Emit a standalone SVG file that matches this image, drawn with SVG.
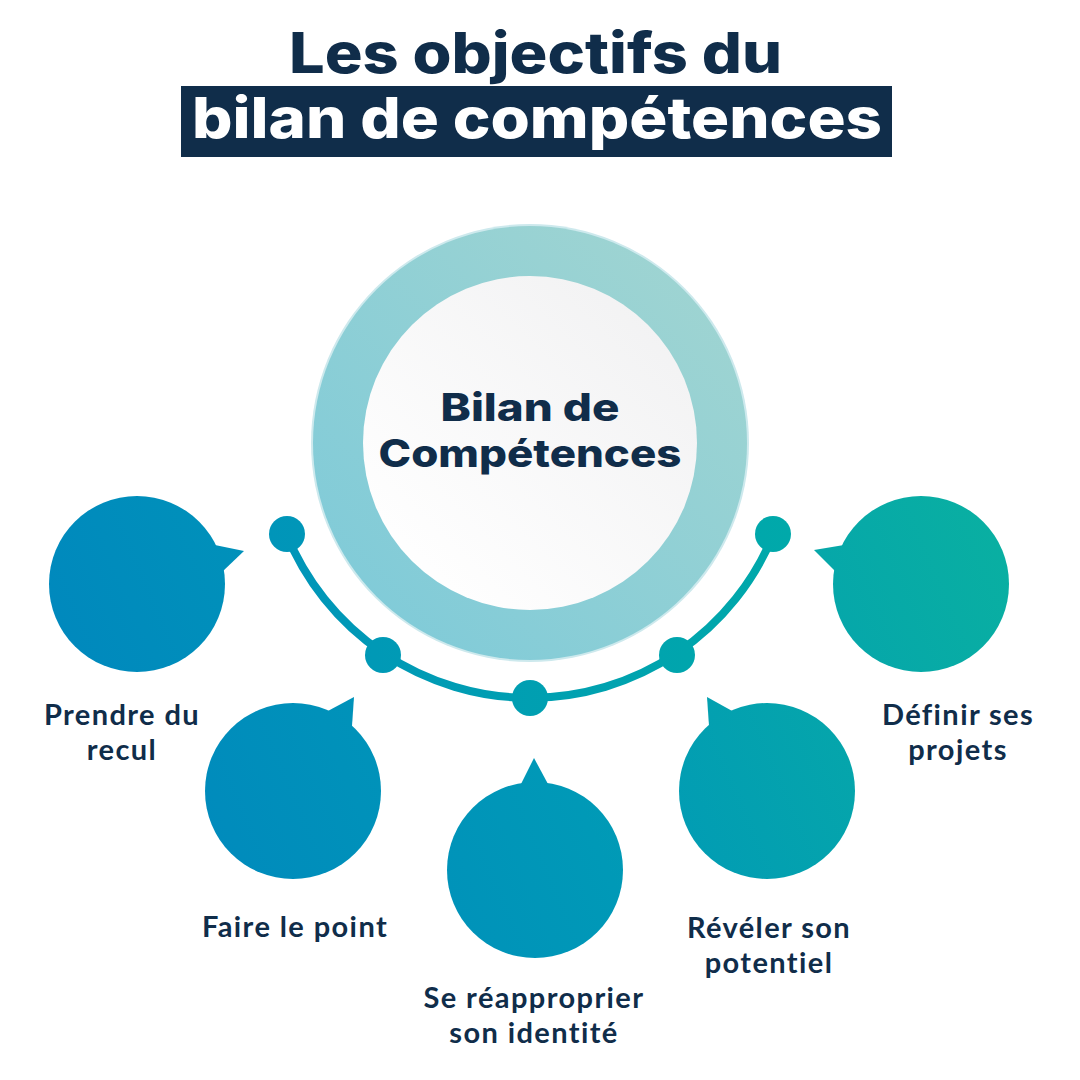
<svg xmlns="http://www.w3.org/2000/svg" width="1080" height="1080" viewBox="0 0 1080 1080">
  <defs>
    <linearGradient id="bubbleGrad" gradientUnits="userSpaceOnUse" x1="40" y1="900" x2="1020" y2="480">
      <stop offset="0" stop-color="#0084BF"/>
      <stop offset="0.5" stop-color="#0099B7"/>
      <stop offset="1" stop-color="#0AB1A0"/>
    </linearGradient>
    <linearGradient id="ringGrad" gradientUnits="userSpaceOnUse" x1="330" y1="650" x2="740" y2="240">
      <stop offset="0" stop-color="#7DCAD9"/>
      <stop offset="1" stop-color="#A2D5D1"/>
    </linearGradient>
    <linearGradient id="innerGrad" gradientUnits="userSpaceOnUse" x1="400" y1="580" x2="680" y2="290">
      <stop offset="0" stop-color="#FFFFFF"/>
      <stop offset="1" stop-color="#F1F1F2"/>
    </linearGradient>
    <linearGradient id="arcGrad" gradientUnits="userSpaceOnUse" x1="270" y1="0" x2="790" y2="0">
      <stop offset="0" stop-color="#0095B9"/>
      <stop offset="1" stop-color="#00A9AA"/>
    </linearGradient>
  </defs>
  <style>
    .title { font-family: Inter, "Noto Sans", "DejaVu Sans", sans-serif; font-weight: 800; font-size: 56px; }
    .center { font-family: Inter, "Noto Sans", "DejaVu Sans", sans-serif; font-weight: 800; font-size: 38px; fill: #102D4A; text-anchor: middle; }
    .label { font-family: Lato, "Open Sans", "Liberation Sans", sans-serif; font-weight: 700; font-size: 29px; letter-spacing: 1.4px; fill: #102D4A; text-anchor: middle; }
    .bubble { fill: url(#bubbleGrad); }
    .dot { fill: url(#arcGrad); }
  </style>

  <rect width="1080" height="1080" fill="#FFFFFF"/>

  <g id="title">
    <text class="title" x="289" y="73" fill="#102D4A" textLength="493" lengthAdjust="spacingAndGlyphs">Les objectifs du</text>
    <rect x="181" y="86" width="711" height="71" fill="#102D4A"/>
    <text class="title" x="192" y="138" fill="#FFFFFF" textLength="690" lengthAdjust="spacingAndGlyphs">bilan de compétences</text>
  </g>

  <g id="connectors">
    <path d="M286,533 A263,263 0 0 0 774,533" fill="none" stroke="url(#arcGrad)" stroke-width="8"/>
    <circle class="dot" cx="287" cy="534" r="18"/>
    <circle class="dot" cx="383" cy="655" r="18"/>
    <circle class="dot" cx="530" cy="698" r="18"/>
    <circle class="dot" cx="677" cy="655" r="18"/>
    <circle class="dot" cx="773" cy="534" r="18"/>
  </g>

  <g id="center-node">
    <circle cx="530" cy="443" r="219" fill="#CDE9ED"/>
    <circle cx="530" cy="443" r="217" fill="url(#ringGrad)"/>
    <circle cx="530" cy="443" r="167" fill="url(#innerGrad)"/>
    <text class="center" x="530" y="421" textLength="179" lengthAdjust="spacingAndGlyphs">Bilan de</text>
    <text class="center" x="530" y="467" textLength="303" lengthAdjust="spacingAndGlyphs">Compétences</text>
  </g>

  <g id="node-prendre-du-recul">
    <circle class="bubble" cx="137" cy="584" r="88"/>
    <polygon class="bubble" points="210,544 244,551 222,572 200,570"/>
    <text class="label" x="122" y="725">Prendre du</text>
    <text class="label" x="122" y="760">recul</text>
  </g>

  <g id="node-faire-le-point">
    <circle class="bubble" cx="293" cy="791" r="88"/>
    <polygon class="bubble" points="326,712 354,697 352,726 335,730"/>
    <text class="label" x="295" y="937">Faire le point</text>
  </g>

  <g id="node-se-reapproprier">
    <circle class="bubble" cx="535" cy="870" r="88"/>
    <polygon class="bubble" points="521,784 534,758 548,784"/>
    <text class="label" x="534" y="1008">Se réapproprier</text>
    <text class="label" x="534" y="1043">son identité</text>
  </g>

  <g id="node-reveler-son-potentiel">
    <circle class="bubble" cx="767" cy="791" r="88"/>
    <polygon class="bubble" points="734,712 707,697 709,726 725,730"/>
    <text class="label" x="769" y="938">Révéler son</text>
    <text class="label" x="769" y="973">potentiel</text>
  </g>

  <g id="node-definir-ses-projets">
    <circle class="bubble" cx="921" cy="584" r="88"/>
    <polygon class="bubble" points="850,544 814,550 836,572 858,570"/>
    <text class="label" x="958" y="725">Définir ses</text>
    <text class="label" x="958" y="760">projets</text>
  </g>
</svg>
